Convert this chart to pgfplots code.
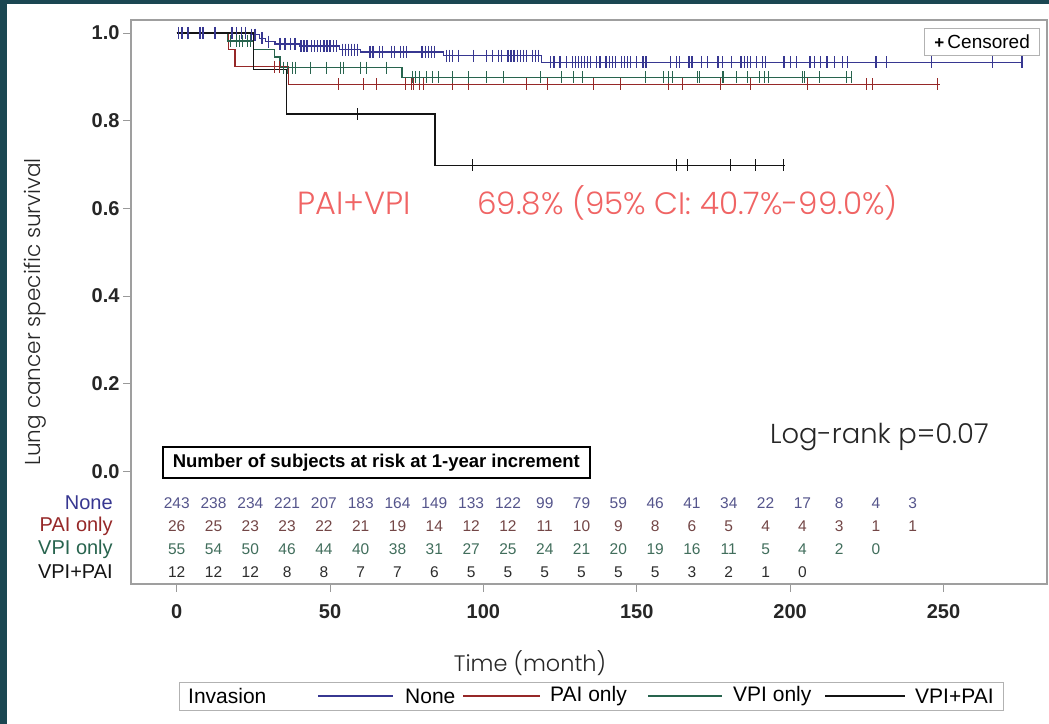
\documentclass[border=0pt]{standalone}
\usepackage{pgfplots}
\pgfplotsset{compat=1.18}
\usepackage{fontspec}
\setmainfont{Liberation Sans}
\newfontfamily\lightfont{Poppins Light}
\definecolor{slide}{RGB}{27,71,82}
\definecolor{cNone}{RGB}{55,55,145}
\definecolor{cPAI}{RGB}{150,40,40}
\definecolor{cVPI}{RGB}{40,100,78}
\definecolor{cBoth}{RGB}{20,20,20}
\definecolor{nNone}{RGB}{85,85,140}
\definecolor{nPAI}{RGB}{115,70,70}
\definecolor{nVPI}{RGB}{65,110,92}
\definecolor{nBoth}{RGB}{45,45,45}
\definecolor{annot}{RGB}{240,100,100}
\begin{document}
\begin{tikzpicture}[x=1bp,y=1bp]
\fill[slide] (0,0) rectangle (1049,724);
\fill[white] (7,0) rectangle (1049,720);
\begin{axis}[
  at={(131bp,140bp)}, anchor=south west, scale only axis, width=916bp, height=564bp,
  xmin=-14.9, xmax=283.76, ymin=-0.2566, ymax=1.0296,
  xtick={0,50,100,150,200,250}, ytick={0,0.2,0.4,0.6,0.8,1.0},
  xtick pos=bottom, ytick pos=left, tick align=outside, major tick length=8bp,
  every tick/.style={gray!80, line width=0.8bp},
  axis line style={gray!75, line width=1.2bp},
  yticklabel style={/pgf/number format/fixed, /pgf/number format/fixed zerofill, /pgf/number format/precision=1},
  xticklabel style={yshift=-9bp},
  /pgf/number format/assume math mode=true,
  tick label style={font=\fontsize{20bp}{22bp}\selectfont\bfseries, text=black!85},
  clip=false,
]
% ---- None
\addplot[const plot, draw=cNone, line width=1.4bp] coordinates {
(0,1.0) (24,0.996) (27,0.988) (29,0.980) (32,0.975) (40,0.970) (53,0.962) (60,0.957) (87,0.948) (119,0.933) (275.7,0.933)};
% ---- PAI only
\addplot[const plot, draw=cPAI, line width=1.3bp] coordinates {
(0,1.0) (16.8,0.962) (19,0.923) (36.5,0.883) (249,0.883)};
% ---- VPI only
\addplot[const plot, draw=cVPI, line width=1.3bp] coordinates {
(0,1.0) (16.5,0.982) (25,0.962) (32,0.945) (33.7,0.921) (73.5,0.899) (220,0.899)};
% ---- VPI+PAI
\addplot[const plot, draw=cBoth, line width=1.3bp] coordinates {
(0,1.0) (25,0.917) (35.8,0.815) (84.2,0.698) (198.3,0.698)};

% ---- censored marks
\addplot[only marks, mark=|, mark size=6bp, cNone, mark options={line width=1.2bp}] coordinates {
(0.5,1.0) (1.7,1.0) (3.7,1.0) (7.6,1.0) (8.6,1.0) (12.5,1.0) (18,1.0) (19.5,1.0) (21,1.0) (22.5,1.0)
(24.5,0.996) (25.5,0.996) (27.8,0.988) (30,0.980)
(33.7,0.975) (35.3,0.975) (37,0.975) (38.6,0.975)
(40.5,0.970) (41.5,0.970) (42.5,0.970) (44,0.970) (45,0.970) (46,0.970) (47,0.970) (48,0.970) (49,0.970) (50,0.970) (51,0.970) (52,0.970)
(54,0.962) (55,0.962) (56,0.962) (57,0.962) (58,0.962) (59,0.962)
(63,0.957) (64,0.957) (66,0.957) (67,0.957) (70,0.957) (71,0.957) (73,0.957) (74,0.957) (75,0.957) (80,0.957) (81,0.957) (82,0.957) (83,0.957) (84,0.957)
(88,0.948) (89,0.948) (90,0.948) (92,0.948) (96.7,0.948) (101,0.948) (103,0.948) (105,0.948) (106,0.948) (108,0.948) (109,0.948) (110,0.948) (111,0.948) (112,0.948) (113,0.948) (114,0.948) (116,0.948) (117,0.948) (118,0.948)
(122,0.933) (123,0.933) (125,0.933) (127,0.933) (129,0.933) (130,0.933) (131,0.933) (132,0.933) (133,0.933) (134,0.933) (135,0.933) (137,0.933) (138,0.933) (140,0.933) (141,0.933) (142,0.933) (143,0.933) (145,0.933) (146,0.933) (147,0.933) (148,0.933) (150,0.933) (152,0.933) (153,0.933)
(161,0.933) (163,0.933) (164,0.933) (167,0.933) (168,0.933) (171,0.933) (173,0.933) (176.5,0.933) (178,0.933) (181,0.933) (184,0.933) (185,0.933) (186,0.933) (187,0.933) (189,0.933) (191,0.933) (192,0.933)
(198,0.933) (200,0.933) (202,0.933) (206.5,0.933) (208,0.933) (210,0.933) (212,0.933) (214.5,0.933) (217,0.933) (218.6,0.933) (228,0.933) (231.5,0.933) (246,0.933) (266,0.933) (275.6,0.933)};
\addplot[only marks, mark=|, mark size=6bp, cPAI, mark options={line width=1bp}] coordinates {
(32,0.923) (33.5,0.923)
(52.6,0.883) (60.8,0.883) (65.3,0.883) (74.5,0.883) (76.7,0.883) (77.1,0.883) (79.3,0.883) (80.6,0.883) (89.8,0.883) (95,0.883) (114,0.883) (121,0.883) (136,0.883) (144.6,0.883) (160.2,0.883) (165,0.883) (177.2,0.883) (187,0.883) (205.8,0.883) (225,0.883) (227,0.883) (248,0.883)};
\addplot[only marks, mark=|, mark size=6bp, cVPI, mark options={line width=1bp}] coordinates {
(17.5,0.982) (19.5,0.982) (20.5,0.982) (21.5,0.982) (23,0.982) (24,0.982)
(34.7,0.921) (36,0.921) (37.6,0.921) (38.6,0.921) (43.5,0.921) (49,0.921) (53.3,0.921) (54.3,0.921) (60,0.921) (62,0.921) (68.5,0.921)
(77,0.899) (78,0.899) (79,0.899) (81.6,0.899) (83.5,0.899) (85.2,0.899) (89.8,0.899) (95,0.899) (101,0.899) (106.5,0.899) (118.5,0.899) (125.6,0.899) (129.3,0.899) (132.2,0.899) (152.7,0.899) (158.6,0.899) (160.2,0.899) (161.8,0.899) (169.7,0.899) (170.6,0.899) (177.8,0.899) (178.2,0.899) (182.6,0.899) (186.2,0.899) (190,0.899) (191.5,0.899) (192.8,0.899) (203.9,0.899) (204.8,0.899) (209.7,0.899) (218.5,0.899) (220,0.899)};
\addplot[only marks, mark=|, mark size=6bp, cBoth, mark options={line width=1bp}] coordinates {
(58.8,0.815) (96.3,0.698) (162.9,0.698) (166.5,0.698) (180.5,0.698) (188.6,0.698) (197.7,0.698)};

% ---- numbers at risk
\pgfplotsset{risk/.style={only marks, mark=none, nodes near coords, point meta=explicit symbolic,
  nodes near coords align=center, every node near coord/.append style={anchor=center, font=\fontsize{15.5bp}{16bp}\selectfont, text=#1}}}
\addplot[risk=nNone] table[meta=n] {
x y n
0 -0.0718 243
12 -0.0718 238
24 -0.0718 234
36 -0.0718 221
48 -0.0718 207
60 -0.0718 183
72 -0.0718 164
84 -0.0718 149
96 -0.0718 133
108 -0.0718 122
120 -0.0718 99
132 -0.0718 79
144 -0.0718 59
156 -0.0718 46
168 -0.0718 41
180 -0.0718 34
192 -0.0718 22
204 -0.0718 17
216 -0.0718 8
228 -0.0718 4
240 -0.0718 3
};
\addplot[risk=nPAI] table[meta=n] {
x y n
0 -0.1243 26
12 -0.1243 25
24 -0.1243 23
36 -0.1243 23
48 -0.1243 22
60 -0.1243 21
72 -0.1243 19
84 -0.1243 14
96 -0.1243 12
108 -0.1243 12
120 -0.1243 11
132 -0.1243 10
144 -0.1243 9
156 -0.1243 8
168 -0.1243 6
180 -0.1243 5
192 -0.1243 4
204 -0.1243 4
216 -0.1243 3
228 -0.1243 1
240 -0.1243 1
};
\addplot[risk=nVPI] table[meta=n] {
x y n
0 -0.1767 55
12 -0.1767 54
24 -0.1767 50
36 -0.1767 46
48 -0.1767 44
60 -0.1767 40
72 -0.1767 38
84 -0.1767 31
96 -0.1767 27
108 -0.1767 25
120 -0.1767 24
132 -0.1767 21
144 -0.1767 20
156 -0.1767 19
168 -0.1767 16
180 -0.1767 11
192 -0.1767 5
204 -0.1767 4
216 -0.1767 2
228 -0.1767 0
};
\addplot[risk=nBoth] table[meta=n] {
x y n
0 -0.2292 12
12 -0.2292 12
24 -0.2292 12
36 -0.2292 8
48 -0.2292 8
60 -0.2292 7
72 -0.2292 7
84 -0.2292 6
96 -0.2292 5
108 -0.2292 5
120 -0.2292 5
132 -0.2292 5
144 -0.2292 5
156 -0.2292 5
168 -0.2292 3
180 -0.2292 2
192 -0.2292 1
204 -0.2292 0
};

% row labels
\begin{scope}[every node/.style={anchor=east, font=\fontsize{20bp}{22bp}\selectfont, inner sep=0pt}]
\node[text=cNone] at (axis cs:-20.8,-0.0718) {None};
\node[text=cPAI] at (axis cs:-20.8,-0.1243) {PAI only};
\node[text=cVPI] at (axis cs:-20.8,-0.1767) {VPI only};
\node[text=cBoth] at (axis cs:-20.8,-0.2292) {VPI+PAI};
\end{scope}

% header box
\node[draw=black, line width=1.5bp, minimum width=427bp, minimum height=31bp, inner sep=0pt,
  font=\fontsize{18.5bp}{20bp}\selectfont\bfseries] at (axis cs:65.1,0.0205) {Number of subjects at risk at 1-year increment};

% censored legend
\node[draw=gray!60, line width=0.8bp, minimum width=115bp, minimum height=27bp, inner sep=0pt,
  font=\fontsize{19bp}{20bp}\selectfont] at (axis cs:262.6,0.9806) {{\fontsize{17bp}{17bp}\selectfont\bfseries +}\,Censored};

% annotations
\node[anchor=west, inner sep=0pt, text=annot, font=\lightfont\fontsize{32bp}{34bp}\selectfont] at (axis cs:39.2,0.612) {PAI+VPI};
\node[anchor=west, inner sep=0pt, text=annot, font=\lightfont\fontsize{31bp}{34bp}\selectfont] at (axis cs:98.0,0.612) {69.8\% (95\% CI: 40.7\%-99.0\%)};
\node[anchor=west, inner sep=0pt, text=black!85, font=\lightfont\fontsize{27.4bp}{29bp}\selectfont] at (axis cs:193.4,0.0787) {Log-rank p=0.07};
\end{axis}
% bottom legend
\draw[gray!60, line width=0.8bp] (179,14) rectangle (1003,42);
\begin{scope}[every node/.style={anchor=west, inner sep=0pt, font=\fontsize{21bp}{23bp}\selectfont}]
\node at (188,28) {Invasion};
\draw[cNone, line width=1.5bp] (318,28) -- (393,28);
\node at (405,28) {None};
\draw[cPAI, line width=1.5bp] (463,28) -- (540,28);
\node at (550,28) {PAI only};
\draw[cVPI, line width=1.5bp] (648,28) -- (722,28);
\node at (733,28) {VPI only};
\draw[cBoth, line width=1.5bp] (825,28) -- (905,28);
\node at (915,28) {VPI+PAI};
\end{scope}
\node[rotate=90, inner sep=0pt, text=black!85, font=\lightfont\fontsize{21.6bp}{24bp}\selectfont] at (35,412) {Lung cancer specific survival};
\node[fill=white, inner sep=2pt, text=black!85, font=\lightfont\fontsize{22.4bp}{24bp}\selectfont] at (530,61) {Time (month)};
\path[use as bounding box] (0,0) rectangle (1049,724);
\end{tikzpicture}
\end{document}
